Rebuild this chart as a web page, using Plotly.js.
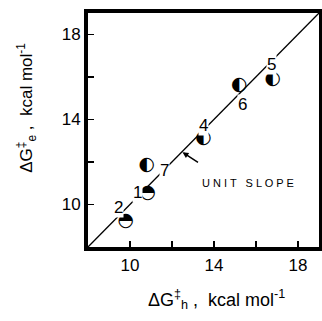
<!DOCTYPE html>
<html><head><meta charset="utf-8">
<script src="https://cdn.plot.ly/plotly-3.0.1.min.js"></script>
<style>html,body{margin:0;padding:0;background:#fff}</style>
</head><body><div id="c" style="width:322px;height:321px"></div>
<script>
// Data
const labels = ['1','2','4','5','6','7'];
const dGh = [10.85, 9.8, 13.5, 16.8, 15.2, 10.8];
const dGe = [10.55, 9.2, 13.1, 15.9, 15.6, 11.85];
const glyph = ['\u25D3','\u25D3','\u25D0','\u25D0','\u25D0','\u25D0'];
const unitLine = [8, 19];
const tickVals = [10, 12, 14, 16, 18];
const tickText = ['10', '', '14', '', '18'];

// label offsets (px) relative to each point
const lblShift = {'1':[-10,0],'2':[-7,14],'4':[0,13],'5':[-1,14],'6':[3,-19],'7':[18,-5]};

const font = 'Liberation Sans, Arial, sans-serif';
const traces = [
  {x: unitLine, y: unitLine, mode: 'lines', line: {color: '#000', width: 1.3}, hoverinfo: 'skip'},
  {x: dGh, y: dGe, mode: 'text', text: glyph, textposition: 'middle center',
   textfont: {family: 'DejaVu Sans', size: 19, color: '#000'}}
];
const ann = labels.map((l, i) => ({
  x: dGh[i], y: dGe[i], text: l, showarrow: false,
  xshift: lblShift[l][0], yshift: lblShift[l][1],
  bgcolor: '#fff', borderpad: 0,
  font: {family: font, size: 17, color: '#000'}
}));
ann.push({x: 12.5, y: 12.45, ax: 17, ay: 11, text: '', showarrow: true,
  arrowhead: 2, arrowsize: 0.8, arrowwidth: 1.5, arrowcolor: '#000'});
ann.push({x: 0.692, y: 0.275, xref: 'paper', yref: 'paper', xanchor: 'center', yanchor: 'middle',
  showarrow: false,
  text: 'U N I T   S L O P E', font: {family: font, size: 11, color: '#000'}});
ann.push({x: 0.558, y: -0.226, xref: 'paper', yref: 'paper', xanchor: 'center', yanchor: 'middle',
  showarrow: false,
  text: '\u0394G<sup>\u2021</sup><sub>h</sub> ,  kcal mol<sup>-1</sup>',
  font: {family: font, size: 18, color: '#000'}});
ann.push({x: -0.264, y: 0.595, xref: 'paper', yref: 'paper', xanchor: 'center', yanchor: 'middle',
  showarrow: false, textangle: -90,
  text: '\u0394G<sup>\u2021</sup><sub>e</sub> ,  kcal mol<sup>-1</sup>',
  font: {family: font, size: 17, color: '#000'}});

const axisCommon = {
  range: [8, 19], showgrid: false, zeroline: false,
  showline: true, mirror: true, linewidth: 4, linecolor: '#000',
  ticks: 'inside', ticklen: 6, tickwidth: 1.5, tickcolor: '#000',
  tickvals: tickVals, ticktext: tickText,
  tickfont: {family: font, size: 17, color: '#000'}
};
const layout = {
  width: 322, height: 321,
  margin: {l: 88, r: 3, t: 13, b: 74},
  paper_bgcolor: '#fff', plot_bgcolor: '#fff',
  showlegend: false,
  xaxis: Object.assign({}, axisCommon),
  yaxis: Object.assign({}, axisCommon),
  annotations: ann
};
Plotly.newPlot('c', traces, layout, {displayModeBar: false, staticPlot: true});
</script></body></html>
